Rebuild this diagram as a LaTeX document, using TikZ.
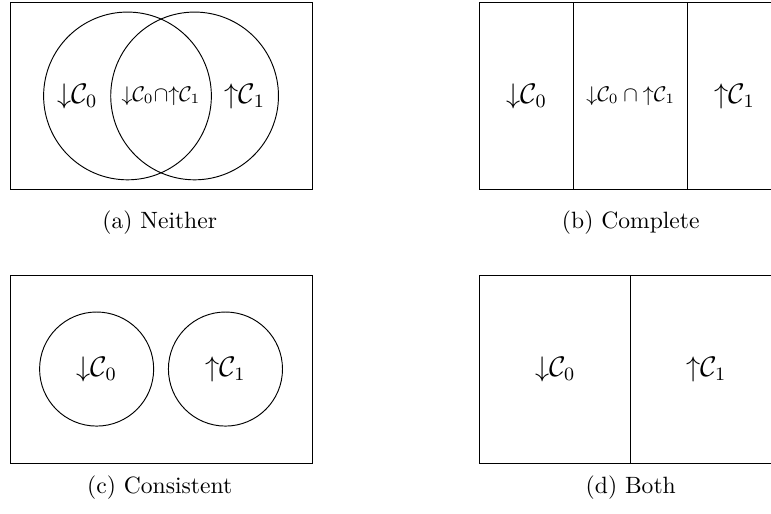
\documentclass[tikz,border=0pt]{standalone}
\usepackage{amsmath}
\tikzset{
  frame/.style={draw},
  setcircle/.style={draw,circle,inner sep=0pt,font=\large},
  sublabel/.style={font=\large},
  smalllabel/.style={font=\small},
  caption/.style={font=\normalsize}
}
\begin{document}
\begin{tikzpicture}
\useasboundingbox (0,0) rectangle (11.49,7.66);
\clip (0,0) rectangle (11.49,7.66);
% (a) neither
\begin{scope}[shift={(0.15,4.83)}]
\draw[frame] (0,0) rectangle (4.5,2.8);
\node[setcircle,minimum size=2.5cm] (downA) at (1.75,1.4) {};
\node[setcircle,minimum size=2.5cm] (upA) at (2.75,1.4) {};
\node[sublabel] (downAlab) at (1.0,1.4) {${\downarrow}\mathcal{C}_0$};
\node[sublabel] (upAlab) at (3.5,1.4) {${\uparrow}\mathcal{C}_1$};
\node[smalllabel] (bothAlab) at (2.25,1.4) {${\downarrow}\mathcal{C}_0{\cap}{\uparrow}\mathcal{C}_1$};
\node[caption] (capA) at (2.23,-0.49) {(a) Neither};
\end{scope}
% (b) complete
\begin{scope}[shift={(7.15,4.83)}]
\draw[frame] (0,0) rectangle (4.5,2.8);
\draw (1.4,0) -- (1.4,2.8);
\draw (3.1,0) -- (3.1,2.8);
\node[sublabel] (downBlab) at (0.7,1.4) {${\downarrow}\mathcal{C}_0$};
\node[smalllabel] (bothBlab) at (2.25,1.4) {${\downarrow}\mathcal{C}_0\cap{\uparrow}\mathcal{C}_1$};
\node[sublabel] (upBlab) at (3.8,1.4) {${\uparrow}\mathcal{C}_1$};
\node[caption] (capB) at (2.25,-0.49) {(b) Complete};
\end{scope}
% (c) consistent
\begin{scope}[shift={(0.15,0.76)}]
\draw[frame] (0,0) rectangle (4.5,2.8);
\node[setcircle,minimum size=1.7cm] (downC) at (1.29,1.4) {${\downarrow}\mathcal{C}_0$};
\node[setcircle,minimum size=1.7cm] (upC) at (3.21,1.4) {${\uparrow}\mathcal{C}_1$};
\node[caption] (capC) at (2.23,-0.36) {(c) Consistent};
\end{scope}
% (d) both
\begin{scope}[shift={(7.15,0.76)}]
\draw[frame] (0,0) rectangle (4.5,2.8);
\draw (2.25,0) -- (2.25,2.8);
\node[sublabel] (downDlab) at (1.125,1.4) {${\downarrow}\mathcal{C}_0$};
\node[sublabel] (upDlab) at (3.375,1.4) {${\uparrow}\mathcal{C}_1$};
\node[caption] (capD) at (2.25,-0.36) {(d) Both};
\end{scope}
\end{tikzpicture}
\end{document}
